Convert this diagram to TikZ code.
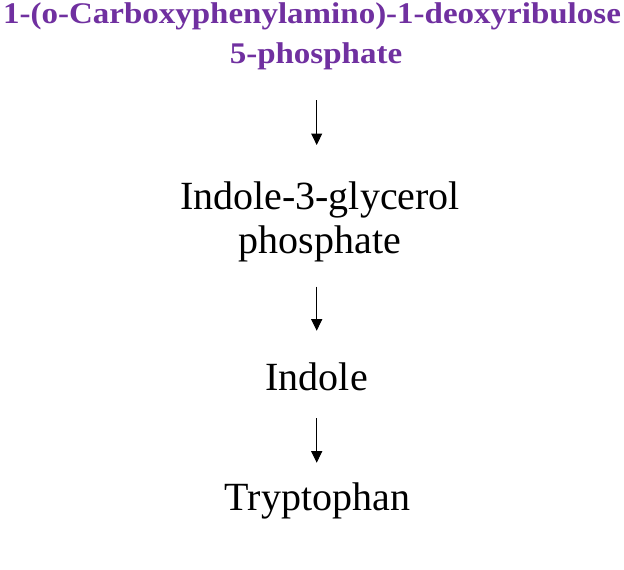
\documentclass[tikz,border=0pt]{standalone}
\usepackage{fontspec}
\setmainfont{Liberation Serif}
\usetikzlibrary{arrows.meta}
\definecolor{titlepurple}{RGB}{112,48,160}
\tikzset{
  titletext/.style={anchor=base, inner sep=0pt, font=\fontsize{30}{36}\selectfont\bfseries, text=titlepurple, xscale=1.1, transform shape},
  steptext/.style={anchor=base, inner sep=0pt, font=\fontsize{40}{46}\selectfont, text=black},
  arr/.style={line width=1pt, -{Triangle[length=11.5pt,width=11pt]}}
}
\begin{document}
\begin{tikzpicture}[x=1pt,y=-1pt]
\useasboundingbox[fill=white] (0,0) rectangle (624,570);
\node[titletext] (t1) at (312,23.5) {1-(o-Carboxyphenylamino)-1-deoxyribulose};
\node[titletext] (t2) at (316,63) {5-phosphate};
\node[steptext] (g1) at (320,209) {Indole-3-glycerol};
\node[steptext] (g2) at (320,253) {phosphate};
\node[steptext] (ind) at (316.7,390) {Indole};
\node[steptext] (trp) at (317.5,510) {Tryptophan};
\coordinate (a1s) at (316.7,100);
\coordinate (a1e) at (316.7,145);
\coordinate (a2s) at (316.7,286.7);
\coordinate (a2e) at (316.7,330.7);
\coordinate (a3s) at (316.7,418.3);
\coordinate (a3e) at (316.7,462.7);
\draw[arr] (a1s) -- (a1e);
\draw[arr] (a2s) -- (a2e);
\draw[arr] (a3s) -- (a3e);
\end{tikzpicture}
\end{document}
